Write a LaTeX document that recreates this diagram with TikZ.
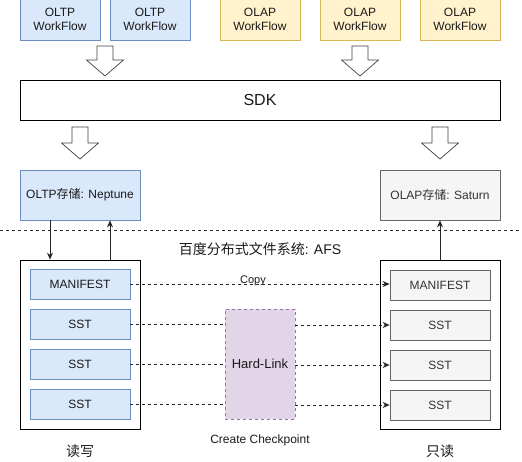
\documentclass[tikz,border=0pt]{standalone}
\usepackage{fontspec}
\setmainfont{Liberation Sans}
\newfontfamily\cjk{Noto Sans CJK SC}
\usetikzlibrary{arrows.meta,calc}
\definecolor{bluefill}{HTML}{DAE8FC}
\definecolor{blueline}{HTML}{6C8EBF}
\definecolor{yelfill}{HTML}{FFF2CC}
\definecolor{yelline}{HTML}{D6B656}
\definecolor{grayfill}{HTML}{F5F5F5}
\definecolor{grayline}{HTML}{666666}
\definecolor{lilfill}{HTML}{E1D5E7}
\definecolor{lilline}{HTML}{9673A6}
\definecolor{txt}{HTML}{1A1A1A}
\begin{document}
\begin{tikzpicture}[x=1pt,y=-1pt,line width=0.8pt,
  box/.style={draw, inner sep=0pt, align=center, text=txt, font=\fontsize{12}{14}\selectfont},
  bluebox/.style={box, fill=bluefill, draw=blueline},
  yelbox/.style={box, fill=yelfill, draw=yelline},
  graybox/.style={box, fill=grayfill, draw=grayline, text=black!80},
  wf/.style={minimum width=80pt, minimum height=42pt},
  store/.style={minimum width=120pt, minimum height=50pt},
  cont/.style={draw=black, fill=white, minimum width=120pt, minimum height=169pt, inner sep=0pt},
  file/.style={minimum width=100pt, minimum height=30pt},
  blockarrow/.style={draw=black!75, fill=white, line width=0.7pt, line join=miter},
  conn/.style={draw=black!85, -{Stealth[length=7pt,width=6pt]}},
  dconn/.style={draw=black!85, dash pattern=on 3pt off 3pt},
  dconnarr/.style={dconn, -{Stealth[length=7pt,width=6pt]}},
  lbl/.style={text=txt, inner sep=0pt}
]
\useasboundingbox (0,0) rectangle (522,461);
% workflows
\node[bluebox,wf] (w1) at (60,19) {OLTP\\WorkFlow};
\node[bluebox,wf] (w2) at (150,19) {OLTP\\WorkFlow};
\node[yelbox,wf] (w3) at (260,19) {OLAP\\WorkFlow};
\node[yelbox,wf] (w4) at (360,19) {OLAP\\WorkFlow};
\node[yelbox,wf] (w5) at (460,19) {OLAP\\WorkFlow};
% block arrows
\foreach \cx/\ty/\hy/\by in {105/46/60/76, 360/46/60/76, 80/127/143/159, 440/127/143/159}{
  \draw[blockarrow] (\cx-8,\ty) -- (\cx+8,\ty) -- (\cx+8,\hy) -- (\cx+18.5,\hy) -- (\cx,\by)
     -- (\cx-18.5,\hy) -- (\cx-8,\hy) -- cycle;
}
% SDK
\node[box, draw=black, fill=white, minimum width=480pt, minimum height=40pt, font=\fontsize{16}{18}\selectfont] (sdk) at (260,100) {SDK};
% storages
\node[bluebox,store] (nep) at (80,195) {OLTP{\cjk 存储}: Neptune};
\node[graybox,store] (sat) at (440,195) {OLAP{\cjk 存储}: Saturn};
% separator
\coordinate (sepL) at (0,230);
\coordinate (sepR) at (522,230);
\draw[dconn] (sepL) -- (sepR);
\node[lbl, font=\fontsize{14}{16}\selectfont] (afs) at (260,249) {{\cjk 百度分布式文件系统}: AFS};
% containers
\node[cont] (rw) at (80,344.5) {};
\node[cont] (ro) at (440,344.5) {};
% files
\node[bluebox,file] (lm) at (80,284) {MANIFEST};
\node[bluebox,file] (ls1) at (80,324) {SST};
\node[bluebox,file] (ls2) at (80,364) {SST};
\node[bluebox,file] (ls3) at (80,404) {SST};
\node[graybox,file] (rm) at (440,285) {MANIFEST};
\node[graybox,file] (rs1) at (440,325) {SST};
\node[graybox,file] (rs2) at (440,365) {SST};
\node[graybox,file] (rs3) at (440,405) {SST};
% hard link
\node[box, fill=lilfill, draw=lilline, dash pattern=on 3pt off 3pt, minimum width=70pt, minimum height=110pt, font=\fontsize{13}{15}\selectfont] (hl) at (260,364) {Hard-Link};
% connectors storage <-> containers
\draw[conn] (nep.south -| 50,0) -- (rw.north -| 50,0);
\draw[conn] (rw.north -| 110,0) -- (nep.south -| 110,0);
\draw[conn] (ro.north) -- (sat.south);
% copy
\draw[dconnarr] (lm.east) -- (lm.east -| rm.west);
\node[lbl, font=\fontsize{11}{13}\selectfont] (copy) at (253,281) {Copy};
% hard links
\draw[dconn] (ls1.east) -- (ls1.east -| hl.west);
\draw[dconn] (ls2.east) -- (ls2.east -| hl.west);
\draw[dconn] (ls3.east) -- (ls3.east -| hl.west);
\draw[dconnarr] (hl.east |- rs1.west) -- (rs1.west);
\draw[dconnarr] (hl.east |- rs2.west) -- (rs2.west);
\draw[dconnarr] (hl.east |- rs3.west) -- (rs3.west);
% labels
\node[lbl, font=\fontsize{12}{14}\selectfont] (cc) at (260,440) {Create Checkpoint};
\node[lbl, font=\cjk\fontsize{14}{16}\selectfont] (rwl) at (80,451) {读写};
\node[lbl, font=\cjk\fontsize{14}{16}\selectfont] (rol) at (440,451) {只读};
\end{tikzpicture}
\end{document}
